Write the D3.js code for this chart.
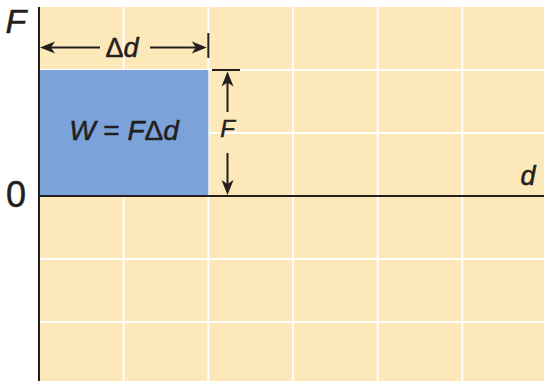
<!DOCTYPE html>
<html>
<head>
<meta charset="utf-8">
<script src="https://cdn.jsdelivr.net/npm/d3@7"></script>
<style>
  html, body { margin: 0; padding: 0; background: #ffffff; }
  svg { display: block; }
  text { font-family: "Liberation Sans", Arial, sans-serif; fill: #231f20; stroke: #231f20; stroke-width: 0.5px; }
</style>
</head>
<body>
<svg id="chart" width="544" height="381"></svg>
<script>
// Grid positions along each axis (one cell = one unit)
const distanceGrid = [0, 1, 2, 3, 4, 5, 6];
const forceGrid = [-3, -2, -1, 0, 1, 2, 3];
// Constant force F acting over the displacement Δd
const displacement = [0, 2];   // d from 0 to 2
const forceLevel = [0, 2];     // F from 0 to 2
const originTicks = [0];
const originTickLabels = ["0"];
const axisNames = ["F", "d"];

const width = 544, height = 381;
const ink = "#231f20";

const x = d3.scaleLinear().domain([0, 6]).range([39, 547]);
const y = d3.scaleLinear().domain([-3, 3]).range([385, 7]);

const svg = d3.select("#chart");

// Paper background of the graph
svg.append("rect")
  .attr("x", x(0)).attr("y", y(3))
  .attr("width", width - x(0)).attr("height", height - y(3))
  .attr("fill", "#fde8ba");

// White grid lines
const grid = svg.append("g");
grid.selectAll("line.v").data(distanceGrid.filter(d => d > 0)).join("line")
  .attr("x1", d => x(d)).attr("x2", d => x(d))
  .attr("y1", y(3)).attr("y2", height)
  .attr("stroke", "#ffffff").attr("stroke-width", 2);
grid.selectAll("line.h").data(forceGrid.filter(f => f !== 0 && f < 3)).join("line")
  .attr("x1", x(0)).attr("x2", width)
  .attr("y1", f => y(f)).attr("y2", f => y(f))
  .attr("stroke", "#ffffff").attr("stroke-width", 2);

// Work area W = F·Δd
svg.append("rect")
  .attr("x", x(displacement[0]))
  .attr("y", y(forceLevel[1]))
  .attr("width", x(displacement[1]) - x(displacement[0]))
  .attr("height", y(forceLevel[0]) - y(forceLevel[1]))
  .attr("fill", "#7ba3d9");

// Axes
svg.append("line")
  .attr("x1", x(0)).attr("x2", x(0))
  .attr("y1", y(3)).attr("y2", height)
  .attr("stroke", ink).attr("stroke-width", 2);
svg.append("line")
  .attr("x1", x(0)).attr("x2", width)
  .attr("y1", y(0)).attr("y2", y(0))
  .attr("stroke", ink).attr("stroke-width", 2);

// Origin tick label via a left axis with no visible ticks
const yAxis = d3.axisLeft(y).tickValues(originTicks)
  .tickFormat((d, i) => originTickLabels[i]).tickSize(0).tickPadding(13);
const ya = svg.append("g").attr("transform", `translate(${x(0)},0)`).call(yAxis);
ya.select(".domain").remove();
ya.selectAll("text")
  .attr("font-size", 36).attr("font-family", "Liberation Sans, Arial, sans-serif")
  .attr("fill", ink).attr("dy", "0.3em");

// Axis names
svg.append("text").attr("x", 16).attr("y", 33)
  .attr("text-anchor", "middle").attr("font-size", 34).attr("font-style", "italic")
  .text(axisNames[0]);
svg.append("text").attr("x", 528).attr("y", 185)
  .attr("text-anchor", "middle").attr("font-size", 27).attr("font-style", "italic")
  .text(axisNames[1]);

// Filled barbed arrowhead, tip at (tx, ty), pointing along angle a
function arrowHead(g, tx, ty, a) {
  const L = 15, w = 6, n = 11;
  const c = Math.cos(a), s = Math.sin(a);
  const pt = (along, across) => [tx - along * c - across * s, ty - along * s + across * c];
  const p = [pt(0, 0), pt(L, w), pt(n, 0), pt(L, -w)];
  g.append("path").attr("d", "M" + p.map(q => q.join(",")).join("L") + "Z").attr("fill", ink);
}

// Δd dimension line
const dimY = 47.5;
const dim = svg.append("g");
dim.append("line").attr("x1", x(displacement[0]) + 6).attr("x2", 100)
  .attr("y1", dimY).attr("y2", dimY).attr("stroke", ink).attr("stroke-width", 2);
dim.append("line").attr("x1", 150).attr("x2", x(displacement[1]) - 6)
  .attr("y1", dimY).attr("y2", dimY).attr("stroke", ink).attr("stroke-width", 2);
arrowHead(dim, x(displacement[0]) + 1, dimY, Math.PI);
arrowHead(dim, x(displacement[1]) - 1.5, dimY, 0);
dim.append("line").attr("x1", x(displacement[1])).attr("x2", x(displacement[1]))
  .attr("y1", 33).attr("y2", 58).attr("stroke", ink).attr("stroke-width", 2);
const dt = dim.append("text").attr("x", 122).attr("y", 57)
  .attr("text-anchor", "middle").attr("font-size", 27);
dt.append("tspan").text("Δ");
dt.append("tspan").attr("font-style", "italic").text("d");

// F dimension line
const fx = 227.5;
const fdim = svg.append("g");
fdim.append("line").attr("x1", 212).attr("x2", 240)
  .attr("y1", y(forceLevel[1])).attr("y2", y(forceLevel[1]))
  .attr("stroke", ink).attr("stroke-width", 2);
fdim.append("line").attr("x1", fx).attr("x2", fx)
  .attr("y1", y(forceLevel[1]) + 8).attr("y2", 112)
  .attr("stroke", ink).attr("stroke-width", 2);
fdim.append("line").attr("x1", fx).attr("x2", fx)
  .attr("y1", 153).attr("y2", y(forceLevel[0]) - 8)
  .attr("stroke", ink).attr("stroke-width", 2);
arrowHead(fdim, fx, y(forceLevel[1]) + 1.5, -Math.PI / 2);
arrowHead(fdim, fx, y(forceLevel[0]) - 1, Math.PI / 2);
fdim.append("text").attr("x", fx).attr("y", 137)
  .attr("text-anchor", "middle").attr("font-size", 24).attr("font-style", "italic")
  .text("F");

// Formula inside the work area
const wt = svg.append("text").attr("x", 124).attr("y", 140)
  .attr("text-anchor", "middle").attr("font-size", 28);
wt.append("tspan").attr("font-style", "italic").text("W");
wt.append("tspan").text(" = ");
wt.append("tspan").attr("font-style", "italic").text("F");
wt.append("tspan").text("Δ");
wt.append("tspan").attr("font-style", "italic").text("d");
</script>
</body>
</html>
